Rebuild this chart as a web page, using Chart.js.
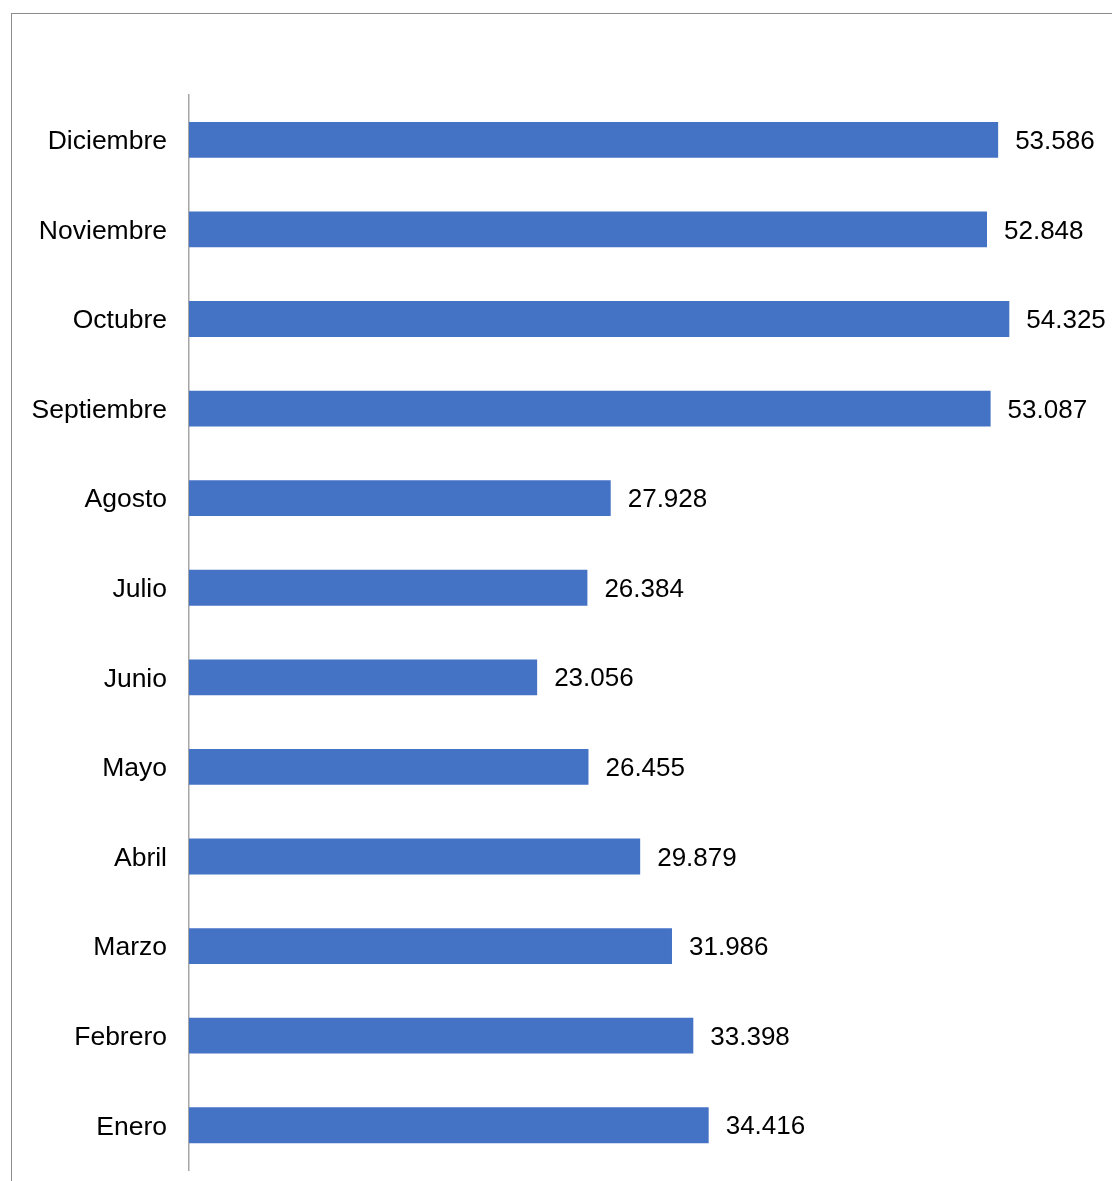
<!DOCTYPE html>
<html>
<head>
<meta charset="utf-8">
<script src="https://cdn.jsdelivr.net/npm/chart.js@4/dist/chart.umd.min.js"></script>
<style>
  html, body { margin: 0; padding: 0; background: #fff; overflow: hidden; }
  #wrap { position: relative; width: 1112px; height: 1181px; }
  #frame {
    position: absolute; left: 11px; top: 13px; width: 1200px; height: 1300px;
    border-left: 1px solid #8c8c8c; border-top: 1px solid #8c8c8c;
  }
  #chart { position: absolute; left: 0; top: 0; }
</style>
</head>
<body>
<div id="wrap">
  <div id="frame"></div>
  <canvas id="chart" width="1112" height="1181"></canvas>
</div>
<script>
// meses en orden de calendario; el eje se invierte para dejar Enero abajo
const meses = ['Enero', 'Febrero', 'Marzo', 'Abril', 'Mayo', 'Junio',
  'Julio', 'Agosto', 'Septiembre', 'Octubre', 'Noviembre', 'Diciembre'];
const valores = [34416, 33398, 31986, 29879, 26455, 23056,
  26384, 27928, 53087, 54325, 52848, 53586];
const ejeMax = 60000;

// separador de miles con punto
function formato(v) {
  return String(v).replace(/\B(?=(\d{3})+(?!\d))/g, '.');
}

// etiquetas de valor al final de cada barra
const etiquetas = {
  id: 'etiquetas',
  afterDatasetsDraw(chart) {
    const ctx = chart.ctx;
    const meta = chart.getDatasetMeta(0);
    ctx.save();
    ctx.font = '26px "Liberation Sans", Arial, sans-serif';
    ctx.fillStyle = '#000';
    ctx.textAlign = 'left';
    ctx.textBaseline = 'middle';
    meta.data.forEach((bar, i) => {
      ctx.fillText(formato(valores[i]), bar.x + 17, bar.y + 2);
    });
    ctx.restore();
  }
};

new Chart(document.getElementById('chart'), {
  type: 'bar',
  data: {
    labels: meses,
    datasets: [{
      data: valores,
      backgroundColor: '#4472C4',
      borderWidth: 0,
      barPercentage: 0.8,
      categoryPercentage: 0.5
    }]
  },
  options: {
    indexAxis: 'y',
    responsive: false,
    animation: false,
    layout: { padding: { top: 95, bottom: 11, left: 0, right: 17 } },
    plugins: {
      legend: { display: false },
      tooltip: { enabled: false }
    },
    scales: {
      x: {
        display: false,
        min: 0,
        max: ejeMax
      },
      y: {
        reverse: true,
        grid: { display: false },
        border: { display: true, color: '#a6a6a6', width: 1.5 },
        ticks: {
          color: '#000',
          padding: 14,
          labelOffset: 2,
          font: { family: '"Liberation Sans", Arial, sans-serif', size: 26.5 }
        },
        afterFit: (scale) => {
          scale.width = 189;
          scale.paddingTop = 0;
          scale.paddingBottom = 0;
        }
      }
    }
  },
  plugins: [etiquetas]
});
</script>
</body>
</html>
